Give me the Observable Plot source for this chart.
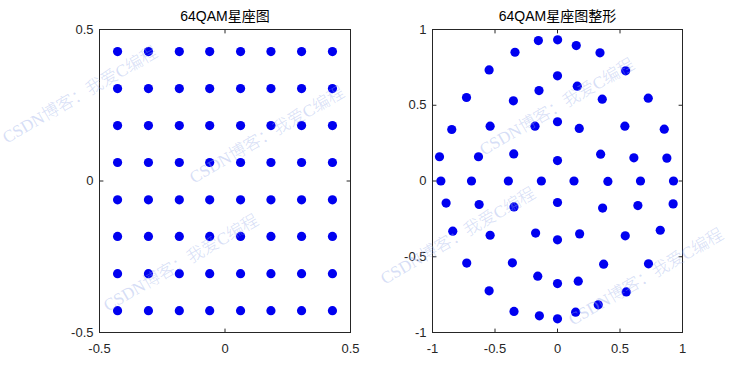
<!DOCTYPE html>
<html><head><meta charset="utf-8">
<script src="https://cdn.jsdelivr.net/npm/d3@7"></script>
<script src="https://cdn.jsdelivr.net/npm/@observablehq/plot@0.6"></script>
<style>
html,body{margin:0;padding:0;background:#fff;}
#wrap{position:relative;width:755px;height:374px;overflow:hidden;background:#fff;}
#wrap svg{position:absolute;top:0;}
</style></head><body><div id="wrap"></div>
<script>
// ---- data ----
const leftTitle = "64QAM星座图";
const rightTitle = "64QAM星座图整形";
const qamLevelsI = [-0.428, -0.305, -0.182, -0.061, 0.062, 0.183, 0.305, 0.428];
const qamLevelsQ = [-0.428, -0.306, -0.183, -0.062, 0.061, 0.183, 0.305, 0.427];
const shapedX = [
  -0.153, 0.001, 0.150, 0.340, -0.340, -0.547, 0.545, 0.000,
  -0.148, 0.158, -0.728, -0.353, 0.358, 0.726, -0.846, -0.539,
  -0.180, 0.000, 0.174, 0.539, 0.854, -0.944, -0.632, -0.350,
  0.000, 0.345, 0.611, 0.875, -0.933, -0.688, -0.393, -0.129,
  0.132, 0.403, 0.664, 0.928, -0.891, -0.627, -0.348, 0.000,
  0.361, 0.643, 0.925, -0.838, -0.539, -0.175, 0.000, 0.177,
  0.542, 0.822, -0.726, -0.361, 0.369, 0.728, -0.158, 0.000,
  0.166, -0.547, 0.550, -0.348, -0.145, 0.000, 0.145, 0.326
];
const shapedY = [
  0.927, 0.932, 0.894, 0.846, 0.850, 0.733, 0.727, 0.694,
  0.597, 0.626, 0.551, 0.529, 0.540, 0.547, 0.340, 0.362,
  0.362, 0.391, 0.347, 0.362, 0.342, 0.160, 0.160, 0.179,
  0.135, 0.177, 0.153, 0.151, 0.000, 0.000, 0.000, 0.000,
  0.000, -0.003, 0.000, 0.000, -0.146, -0.155, -0.171, -0.142,
  -0.179, -0.162, -0.151, -0.331, -0.358, -0.344, -0.388, -0.349,
  -0.362, -0.325, -0.542, -0.540, -0.549, -0.547, -0.628, -0.677,
  -0.661, -0.725, -0.732, -0.861, -0.890, -0.910, -0.866, -0.817
];
const leftTicks = [-0.5, 0, 0.5];
const rightTicks = [-1, -0.5, 0, 0.5, 1];
const watermarkText = "CSDN博客：我爱C编程";

// ---- tables built from the arrays ----
const qamPoints = qamLevelsQ.flatMap(q => qamLevelsI.map(i => ({i, q})));
const shapedPoints = shapedX.map((x, k) => ({i: x, q: shapedY[k]}));

const axisColor = "#262626";
const tickShape = {draw(ctx, l) { ctx.moveTo(0, 0); ctx.lineTo(0, -l); }};
const fmt = d => String(d);

function panel({points, ticks, domain, title, width, marginLeft, marginRight}) {
  const tk = (anchor, rotate, ch) => Plot.vector(ticks, {
    [ch]: d => d, frameAnchor: anchor, length: 3.5, rotate, shape: tickShape,
    anchor: "start", stroke: axisColor, strokeWidth: 1
  });
  return Plot.plot({
    width, height: 374,
    marginLeft, marginRight, marginTop: 29, marginBottom: 42,
    x: {domain, type: "linear", label: null},
    y: {domain, type: "linear", label: null},
    style: {fontFamily: "'Liberation Sans', Arial, 'Noto Sans CJK SC', sans-serif", fontSize: "13px", color: axisColor, background: "transparent", overflow: "visible"},
    marks: [
      Plot.dot(points, {x: "i", y: "q", r: 4.6, fill: "#0000f0", stroke: null}),
      Plot.frame({stroke: axisColor, strokeWidth: 1}),
      tk("bottom", 0, "x"),
      tk("top", 180, "x"),
      tk("left", 90, "y"),
      tk("right", -90, "y"),
      Plot.axisX(ticks, {anchor: "bottom", tickSize: 0, tickPadding: 11, tickFormat: fmt, fill: axisColor, label: null}),
      Plot.axisY(ticks, {anchor: "left", tickSize: 0, tickPadding: 6, tickFormat: fmt, fill: axisColor, label: null}),
      Plot.text([title], {frameAnchor: "top", dy: -13, fontSize: 14, fill: "#000", lineAnchor: "middle"})
    ]
  });
}

const wrap = document.getElementById("wrap");
const left = panel({points: qamPoints, ticks: leftTicks, domain: [-0.5, 0.5], title: leftTitle, width: 377, marginLeft: 99, marginRight: 27});
left.style.left = "0px";
wrap.appendChild(left);
const right = panel({points: shapedPoints, ticks: rightTicks, domain: [-1, 1], title: rightTitle, width: 378, marginLeft: 55, marginRight: 73});
right.style.left = "377px";
wrap.appendChild(right);

// ---- watermark overlay ----
const wmCenters = [[80, 95], [267, 135], [181, 263], [557, 107], [458, 236], [646, 277]];
const ov = d3.select(wrap).append("svg")
  .attr("width", 755).attr("height", 374)
  .style("left", "0px").style("pointer-events", "none");
ov.selectAll("text").data(wmCenters).join("text")
  .attr("transform", d => `translate(${d[0]},${d[1]}) rotate(-30)`)
  .attr("text-anchor", "middle")
  .attr("dominant-baseline", "central")
  .attr("font-family", "'Liberation Serif', 'Noto Sans CJK SC', serif")
  .attr("font-size", 17)
  .attr("font-weight", 300)
  .attr("fill", "#9db0ea")
  .attr("fill-opacity", 0.42)
  .text(watermarkText);
</script>
</body></html>
